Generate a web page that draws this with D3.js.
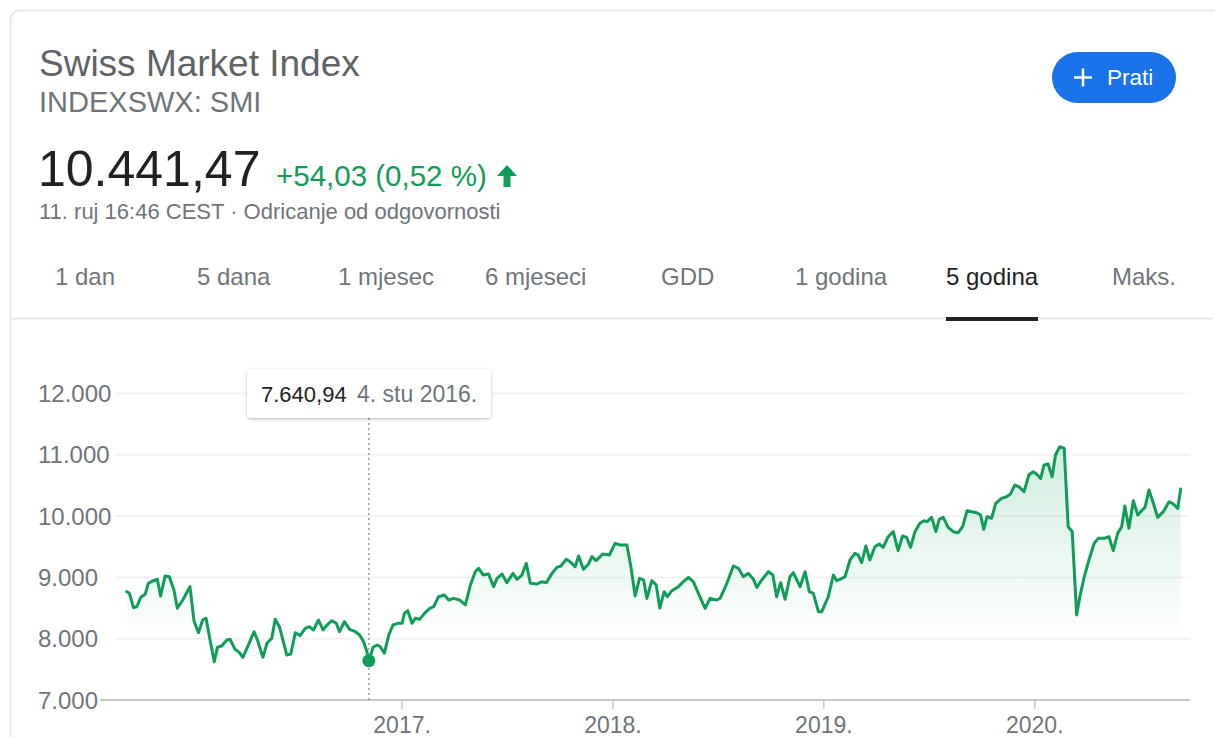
<!DOCTYPE html>
<html><head><meta charset="utf-8">
<script src="https://cdn.jsdelivr.net/npm/d3@7"></script>
<style>
html,body{margin:0;padding:0;background:#fff;}
svg{display:block;font-family:Arial,"Liberation Sans",sans-serif;}
</style></head>
<body><svg id="c" width="1215" height="737"></svg>
<script>
// ---- data (decimal year, index value) ----
const years = [
2015.697,2015.710,2015.729,2015.745,2015.764,2015.784,2015.800,2015.823,2015.842,2015.858,2015.879,2015.899,2015.921,2015.937,2015.963,2015.997,
2016.016,2016.037,2016.057,2016.073,2016.092,2016.112,2016.127,2016.147,2016.171,2016.187,2016.210,2016.231,2016.247,2016.273,2016.300,2016.316,
2016.342,2016.361,2016.384,2016.400,2016.420,2016.455,2016.474,2016.495,2016.518,2016.542,2016.562,2016.581,2016.605,2016.626,2016.645,2016.668,
2016.689,2016.704,2016.727,2016.752,2016.779,2016.799,2016.818,2016.834,2016.843,2016.863,2016.882,2016.897,2016.916,2016.937,2016.957,2016.979,
2017.000,2017.011,2017.027,2017.047,2017.063,2017.083,2017.106,2017.131,2017.150,2017.173,2017.200,2017.221,2017.244,2017.273,2017.300,2017.324,
2017.347,2017.363,2017.384,2017.410,2017.434,2017.450,2017.474,2017.497,2017.526,2017.545,2017.568,2017.589,2017.608,2017.640,2017.663,2017.684,
2017.711,2017.734,2017.753,2017.778,2017.797,2017.821,2017.837,2017.860,2017.884,2017.900,2017.920,2017.952,2017.983,2018.010,2018.034,2018.066,
2018.085,2018.105,2018.126,2018.145,2018.161,2018.184,2018.205,2018.222,2018.243,2018.258,2018.279,2018.310,2018.334,2018.358,2018.381,2018.405,
2018.437,2018.460,2018.489,2018.508,2018.540,2018.571,2018.595,2018.618,2018.642,2018.666,2018.682,2018.705,2018.737,2018.758,2018.776,2018.795,
2018.816,2018.839,2018.855,2018.887,2018.911,2018.931,2018.950,2018.974,2018.990,2019.021,2019.045,2019.061,2019.076,2019.100,2019.124,2019.147,
2019.163,2019.179,2019.199,2019.218,2019.242,2019.262,2019.281,2019.305,2019.329,2019.352,2019.373,2019.392,2019.411,2019.432,2019.455,2019.474,
2019.490,2019.511,2019.531,2019.547,2019.566,2019.589,2019.613,2019.637,2019.658,2019.679,2019.700,2019.724,2019.743,2019.758,2019.774,2019.795,
2019.815,2019.842,2019.866,2019.885,2019.905,2019.924,2019.949,2019.972,2019.992,2020.008,2020.028,2020.044,2020.063,2020.082,2020.098,2020.118,
2020.139,2020.158,2020.177,2020.198,2020.213,2020.234,2020.256,2020.281,2020.300,2020.328,2020.351,2020.371,2020.392,2020.411,2020.426,2020.445,
2020.466,2020.487,2020.508,2020.521,2020.540,2020.560,2020.581,2020.608,2020.635,2020.655,2020.676,2020.690
];
const values = [
8767,8740,8506,8522,8675,8724,8904,8947,8969,8697,9023,9011,8794,8496,8631,8849,
8294,8098,8305,8333,7979,7625,7860,7881,7979,7990,7827,7772,7696,7897,8114,7979,
7696,7925,8007,8316,8196,7734,7750,8098,8050,8169,8196,8142,8305,8142,8223,8294,
8251,8114,8277,8153,8114,8060,7951,7788,7640.94,7860,7897,7870,7762,8060,8223,8251,
8251,8414,8457,8251,8333,8316,8414,8496,8522,8685,8713,8631,8658,8631,8550,8876,
9093,9148,9040,9055,8849,8985,9055,8914,9066,8969,9039,9229,8904,8892,8930,8914,
9066,9164,9186,9295,9256,9175,9349,9132,9219,9338,9273,9382,9365,9556,9528,9528,
9175,8697,8985,8958,8658,8947,8876,8500,8767,8685,8783,8849,8930,9001,8930,8741,
8496,8658,8631,8658,8904,9186,9148,9011,9066,8969,8838,8958,9093,9039,8685,8914,
8643,9011,9077,8849,9093,8767,8740,8441,8441,8685,9039,8947,8969,9011,9284,9393,
9365,9240,9512,9284,9501,9545,9491,9664,9746,9436,9675,9654,9491,9746,9883,9925,
9909,9980,9746,9948,9980,9817,9746,9729,9827,10088,10072,10055,10018,9784,9990,9964,
10209,10290,10316,10361,10507,10480,10398,10670,10724,10686,10616,10834,10850,10643,10997,11132,
11106,9827,9746,8387,8685,9011,9284,9556,9637,9637,9664,9436,9719,9827,10165,9801,
10251,10018,10100,10143,10426,10219,9980,10072,10235,10198,10127,10441.47
];
const yTicks = [7000, 8000, 9000, 10000, 11000, 12000];
const xTickYears = [2017, 2018, 2019, 2020];
const tabs = ["1 dan","5 dana","1 mjesec","6 mjeseci","GDD","1 godina","5 godina","Maks."];
const activeTab = "5 godina";
const titleText = "Swiss Market Index";
const tickerText = "INDEXSWX: SMI";
const lastValue = 10441.47;
const changeText = "+54,03 (0,52 %)";
const timeText = "11. ruj 16:46 CEST · Odricanje od odgovornosti";
const hoverYear = 2016.843;
const hoverDateText = "4. stu 2016.";

// ---- helpers ----
const hr = d3.formatLocale({decimal: ",", thousands: ".", grouping: [3], currency: ["", " CHF"]});
const fmtInt = hr.format(",.0f");
const fmt2 = hr.format(",.2f");
function decToDate(t){
  const y = Math.floor(t);
  const s = Date.UTC(y,0,1), e = Date.UTC(y+1,0,1);
  return new Date(s + (t - y) * (e - s));
}
const data = years.map((t,i)=>({date: decToDate(t), value: values[i]}));

const svg = d3.select("#c");
const GREEN = "#0f9d58";
const GRAY = "#70757a";

// defs
const defs = svg.append("defs");
const grad = defs.append("linearGradient").attr("id","areaGrad")
  .attr("gradientUnits","userSpaceOnUse").attr("x1",0).attr("x2",0).attr("y1",440).attr("y2",640);
grad.append("stop").attr("offset","0%").attr("stop-color",GREEN).attr("stop-opacity",0.2);
grad.append("stop").attr("offset","100%").attr("stop-color",GREEN).attr("stop-opacity",0);
const sh = defs.append("filter").attr("id","shadow").attr("x","-20%").attr("y","-40%").attr("width","140%").attr("height","180%");
sh.append("feDropShadow").attr("dx",0).attr("dy",1).attr("stdDeviation",1.6).attr("flood-color","#000").attr("flood-opacity",0.28);

// card outline
svg.append("rect").attr("x",10.5).attr("y",10.5).attr("width",1230).attr("height",760).attr("rx",9)
  .attr("fill","none").attr("stroke","#e4e4e4").attr("stroke-width",1.5);

// header
svg.append("text").attr("x",39).attr("y",76).attr("font-size",37).attr("fill","#5f6368").text(titleText);
svg.append("text").attr("x",39).attr("y",112).attr("font-size",29).attr("fill",GRAY).text(tickerText);
svg.append("text").attr("x",38).attr("y",186).attr("font-size",50).attr("fill","#202124").text(fmt2(lastValue));
svg.append("text").attr("x",276).attr("y",186).attr("font-size",29.5).attr("fill",GREEN).text(changeText);
// up arrow
svg.append("path").attr("fill",GREEN)
  .attr("d","M507,165 L517,176 L510.5,176 L510.5,187 L503.5,187 L503.5,176 L497,176 Z");
svg.append("text").attr("x",39).attr("y",219).attr("font-size",22).attr("fill",GRAY).text(timeText);

// follow button
svg.append("rect").attr("x",1052).attr("y",52).attr("width",124).attr("height",51).attr("rx",25.5).attr("fill","#1a73e8");
svg.append("path").attr("d","M1074,77.5 H1092 M1083,68.5 V86.5").attr("stroke","#fff").attr("stroke-width",2.5);
svg.append("text").attr("x",1107).attr("y",85).attr("font-size",22.5).attr("fill","#fff").text("Prati");

// tabs
const tabX = [55,197,338,485,661,795,946,1112];
tabs.forEach((t,i)=>{
  svg.append("text").attr("x",tabX[i]).attr("y",284.5).attr("font-size",24)
    .attr("fill", t===activeTab ? "#202124" : GRAY).text(t);
});
svg.append("line").attr("x1",10).attr("x2",1213).attr("y1",318.5).attr("y2",318.5).attr("stroke","#e8e8e8").attr("stroke-width",2);
const ai = tabs.indexOf(activeTab);
svg.append("rect").attr("x",tabX[ai]).attr("y",317).attr("width",92).attr("height",4).attr("fill","#202124");

// scales
const x = d3.scaleUtc().domain([data[0].date, data[data.length-1].date]).range([126.7, 1180.7]);
const y = d3.scaleLinear().domain([7000, 12000]).range([700, 393.5]);

// gridlines + y labels
yTicks.forEach(v=>{
  if (v !== 7000) {
    svg.append("line").attr("x1",115).attr("x2",1190).attr("y1",y(v)).attr("y2",y(v))
      .attr("stroke","#f0f0f0").attr("stroke-width",1.5);
  }
  svg.append("text").attr("x",38).attr("y",y(v)+8.5).attr("font-size",24).attr("fill",GRAY).text(fmtInt(v));
});

// area + line
const area = d3.area().x(d=>x(d.date)).y0(y(7000)-70).y1(d=>y(d.value)).curve(d3.curveLinear);
svg.append("path").datum(data).attr("d",area).attr("fill","url(#areaGrad)");
const line = d3.line().x(d=>x(d.date)).y(d=>y(d.value));
svg.append("path").datum(data).attr("d",line).attr("fill","none").attr("stroke",GREEN)
  .attr("stroke-width",3).attr("stroke-linejoin","round").attr("stroke-linecap","round");

// x axis baseline and ticks
svg.append("line").attr("x1",100).attr("x2",1190).attr("y1",y(7000)).attr("y2",y(7000))
  .attr("stroke","#c8c8c8").attr("stroke-width",2);
xTickYears.forEach(yr=>{
  const px = x(new Date(Date.UTC(yr,0,1)));
  svg.append("line").attr("x1",px).attr("x2",px).attr("y1",y(7000)).attr("y2",y(7000)+9)
    .attr("stroke","#c8c8c8").attr("stroke-width",1.5);
  svg.append("text").attr("x",px).attr("y",733).attr("font-size",23).attr("fill",GRAY)
    .attr("text-anchor","middle").text(yr + ".");
});

// hover crosshair
const hi = years.indexOf(hoverYear);
const hd = data[hi];
const hx = x(hd.date);
svg.append("line").attr("x1",hx).attr("x2",hx).attr("y1",418).attr("y2",y(7000))
  .attr("stroke","#888").attr("stroke-width",1.2).attr("stroke-dasharray","2,3");
svg.append("circle").attr("cx",hx).attr("cy",y(hd.value)).attr("r",6.5).attr("fill",GREEN);

// tooltip
svg.append("rect").attr("x",247).attr("y",369).attr("width",244).attr("height",49).attr("rx",4)
  .attr("fill","#fff").attr("filter","url(#shadow)");
svg.append("text").attr("x",261).attr("y",402).attr("font-size",22).attr("fill","#202124").attr("font-weight",500).text(fmt2(hd.value));
svg.append("text").attr("x",357).attr("y",402).attr("font-size",23).attr("fill",GRAY).text(hoverDateText);
</script>
</body></html>
